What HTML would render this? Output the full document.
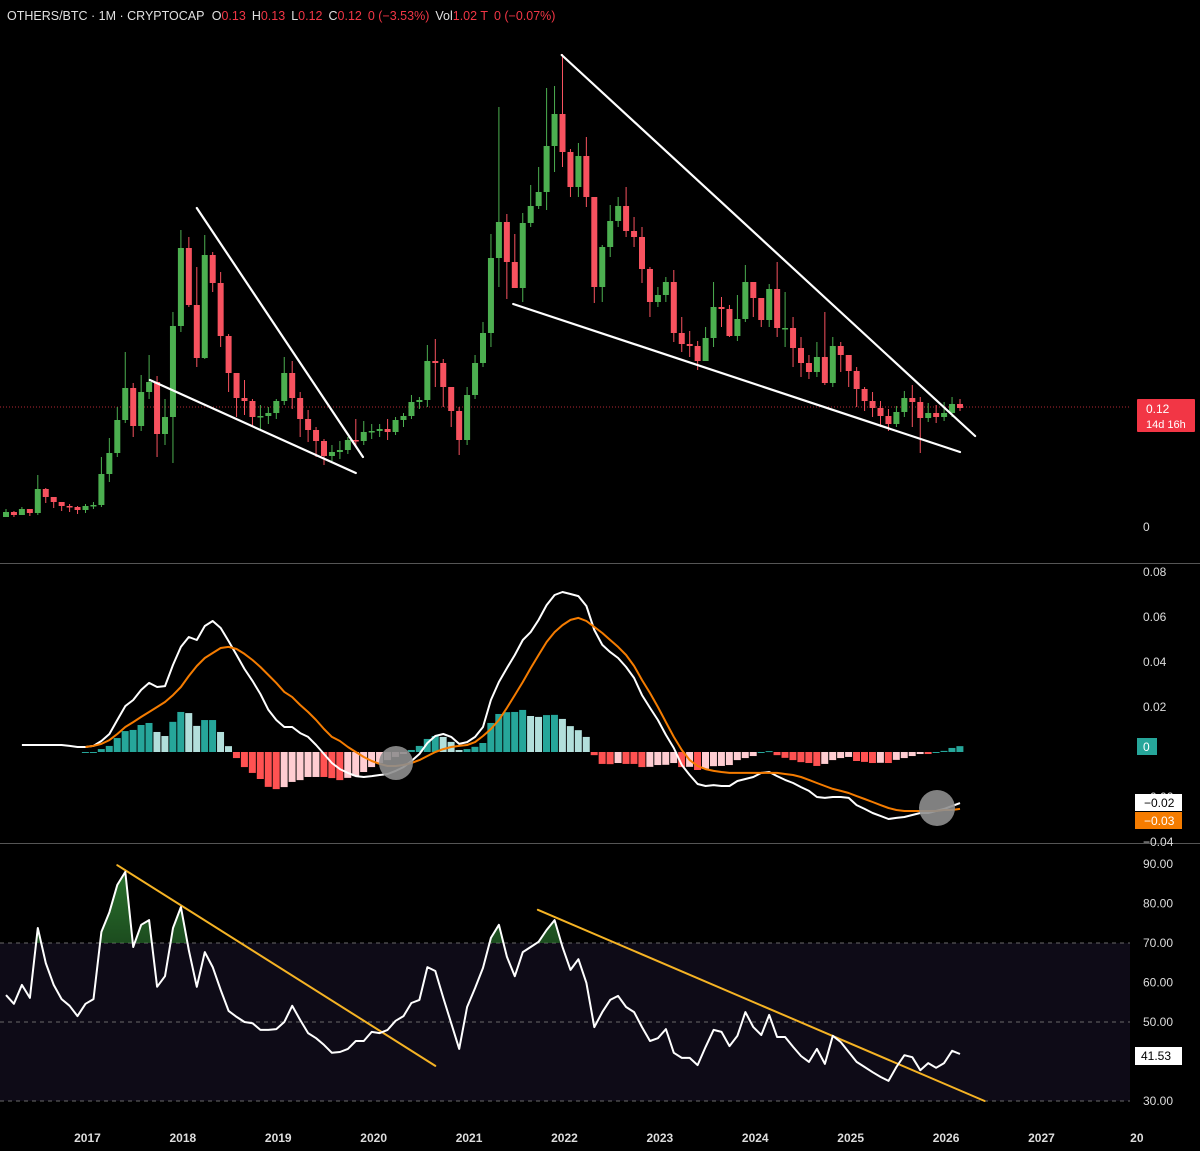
<!DOCTYPE html>
<html><head><meta charset="utf-8"><style>
html,body{margin:0;padding:0;background:#000;width:1200px;height:1151px;overflow:hidden}
svg{display:block;font-family:"Liberation Sans",sans-serif}
</style></head><body>
<svg id="chart" width="1200" height="1151" viewBox="0 0 1200 1151" xmlns="http://www.w3.org/2000/svg">
<rect x="0" y="0" width="1200" height="1151" fill="#000"/>
<text x="7" y="20" font-size="12.5" fill="#e0e0e0">OTHERS/BTC · 1M · CRYPTOCAP <tspan dx="4">O</tspan><tspan fill="#f23645">0.13</tspan><tspan dx="6">H</tspan><tspan fill="#f23645">0.13</tspan><tspan dx="6">L</tspan><tspan fill="#f23645">0.12</tspan><tspan dx="6">C</tspan><tspan fill="#f23645">0.12</tspan><tspan dx="6" fill="#f23645">0 (−3.53%)</tspan><tspan dx="6">Vol</tspan><tspan fill="#f23645">1.02 T</tspan><tspan dx="6" fill="#f23645">0 (−0.07%)</tspan></text>
<line x1="0" y1="563.5" x2="1200" y2="563.5" stroke="#555"/>
<line x1="0" y1="843.5" x2="1200" y2="843.5" stroke="#555"/>
<rect x="0" y="943" width="1130" height="158" fill="#0e0b17"/>
<g id="layer"></g>
</svg>
<script>
const closes=[.015,.012,.018,.014,.038,.030,.025,.021,.020,.017,
.021,.022,.053,.074,.107,.139,.101,.135,.145,.093,
.110,.201,.279,.222,.169,.272,.244,.191,.154,.129,
.126,.110,.111,.114,.126,.154,.129,.108,.097,.086,
.071,.075,.077,.087,.086,.095,.096,.098,.095,.107,
.111,.125,.127,.166,.164,.140,.116,.087,.132,.164,
.194,.269,.305,.265,.239,.304,.321,.335,.381,.413,
.375,.340,.371,.330,.240,.280,.306,.321,.296,.290,
.258,.225,.232,.245,.194,.183,.181,.166,.189,.220,
.218,.191,.208,.245,.229,.207,.238,.199,.199,.179,
.164,.155,.170,.144,.181,.172,.156,.138,.126,.119,
.111,.103,.115,.129,.125,.109,.114,.110,.114,.123,.119];
const firstOpen=0.010;
const highs=[.018,.016,.020,.017,.052,.039,.029,.024,.023,.021,
.023,.025,.070,.089,.120,.175,.144,.152,.172,.151,
.128,.215,.297,.290,.260,.292,.275,.255,.193,.152,
.147,.128,.122,.120,.128,.170,.166,.135,.117,.100,
.088,.082,.086,.090,.108,.106,.103,.103,.108,.110,
.114,.132,.130,.182,.188,.168,.140,.120,.140,.172,
.205,.293,.420,.313,.293,.314,.342,.360,.439,.441,
.473,.378,.384,.390,.330,.282,.322,.330,.340,.310,
.300,.260,.240,.250,.257,.210,.196,.186,.200,.245,
.230,.222,.232,.262,.244,.228,.243,.265,.235,.210,
.190,.172,.185,.215,.190,.185,.168,.160,.140,.135,
.126,.118,.121,.136,.142,.130,.124,.122,.125,.130,.128];
const lows=[.012,.010,.012,.011,.012,.024,.019,.016,.015,.013,
.014,.018,.020,.045,.070,.104,.090,.096,.128,.070,
.082,.064,.195,.220,.160,.168,.235,.180,.135,.110,
.112,.100,.098,.103,.108,.122,.118,.090,.085,.070,
.062,.066,.068,.073,.080,.082,.088,.090,.087,.092,
.100,.108,.118,.120,.140,.120,.100,.072,.082,.128,
.160,.180,.240,.228,.250,.225,.300,.318,.317,.355,
.360,.330,.330,.320,.224,.225,.270,.300,.290,.280,
.244,.210,.220,.225,.185,.175,.170,.157,.170,.180,
.200,.190,.186,.205,.210,.200,.200,.190,.180,.160,
.150,.148,.150,.142,.140,.155,.140,.120,.116,.110,
.100,.096,.100,.110,.100,.074,.105,.104,.106,.110,.116];
// MACD values in thousandths
const macdLine=[null,null,3.1,3.1,3.1,3.1,3.1,3.1,2.7,2.2,
2.2,2.7,4.9,8.0,14.2,20.4,23.1,27.6,30.7,28.9,
29.3,38.7,46.7,51.1,49.8,56.0,58.2,55.1,49.3,43.1,
36.9,31.6,25.8,18.7,14.2,11.1,11.1,8.4,6.7,3.1,
-0.9,-4.9,-7.6,-9.3,-10.7,-11.1,-10.7,-10.2,-9.8,-8.4,
-6.7,-4.0,-0.9,4.0,7.1,8.0,6.7,3.6,4.4,6.7,
11.1,23.1,31.1,37.3,43.1,49.8,53.3,58.7,65.3,69.8,
71.1,70.2,69.3,64.9,54.2,47.6,44.4,41.8,37.8,32.9,
25.3,19.6,14.2,7.6,1.8,-5.8,-10.2,-14.2,-15.1,-14.7,
-15.1,-15.1,-12.9,-12.0,-11.1,-9.3,-8.9,-10.7,-12.4,-13.8,
-15.6,-17.3,-20.0,-20.4,-20.0,-20.0,-20.4,-23.6,-25.3,-27.1,
-28.4,-29.8,-29.3,-28.9,-28.0,-27.1,-27.1,-26.2,-25.3,-24.0,-22.7];
const signalLine=[null,null,null,null,null,null,null,null,null,null,
2.2,2.7,3.6,5.3,8.0,11.1,13.3,15.6,17.8,20.0,
22.2,25.3,28.9,33.8,38.2,41.8,44.0,46.2,46.7,45.8,
43.6,40.9,37.8,34.2,30.7,26.7,24.4,20.9,17.8,14.2,
10.2,6.7,4.9,2.2,0,-2.2,-4.0,-5.3,-6.2,-6.2,
-5.8,-4.9,-3.6,-1.8,0,1.3,2.2,2.7,3.1,4.4,
7.1,10.2,14.2,19.6,25.3,31.1,37.3,43.1,48.9,53.3,
56.4,58.7,59.6,58.2,55.6,52.9,49.8,46.7,43.1,38.2,
32.0,26.2,20.0,13.3,6.7,0.9,-3.6,-6.2,-7.6,-8.4,
-8.9,-9.3,-9.3,-9.3,-9.3,-9.3,-9.3,-9.3,-9.8,-10.2,
-11.1,-12.4,-13.8,-15.1,-16.4,-17.3,-18.2,-19.6,-20.9,-22.2,
-23.6,-24.9,-25.8,-26.2,-26.2,-26.2,-26.2,-26.2,-25.8,-25.8,-25.3];
const rsi=[56.8,54.6,59.4,56.1,73.8,64.9,59.4,55.8,54.1,51.5,
54.6,55.8,72.8,77.8,84.7,88.0,69.0,74.6,75.8,58.9,
61.6,73.8,79.1,68.2,58.9,67.7,63.9,58.1,52.8,51.3,
50.0,49.7,48.0,48.0,48.2,50.0,54.1,50.5,47.2,45.9,
44.2,42.2,42.4,43.2,45.2,45.2,47.5,47.2,48.0,50.3,
51.5,54.8,55.6,63.9,62.9,56.1,49.7,43.2,53.8,58.6,
63.7,71.3,74.6,66.5,61.6,67.7,69.0,70.3,73.3,75.8,
69.0,63.2,65.9,59.9,48.7,52.5,55.6,56.6,53.8,52.5,
48.7,45.2,45.9,48.2,42.2,40.9,40.9,39.1,43.7,48.0,
47.5,43.9,46.5,52.5,48.7,46.7,51.8,46.2,46.2,43.7,
41.4,39.9,43.2,39.4,46.5,44.9,42.4,39.9,38.6,37.3,
36.1,35.1,38.6,41.6,41.1,37.8,39.6,38.4,39.6,42.7,41.9];
const years=["2017","2018","2019","2020","2021","2022","2023","2024","2025","2026","2027","20"];
const macdTicks=["0.08","0.06","0.04","0.02","−0.02","−0.04"];
const macdTickVals=[80,60,40,20,-20,-40];
const rsiTicks=["90.00","80.00","70.00","60.00","50.00","30.00"];
const rsiTickVals=[90,80,70,60,50,30];
// trendline annotations: [index, value] endpoints
const priceTrendA=[[24.0,.319],[44.9,.070]];
const priceTrendB=[[18.1,.147],[44.0,.054]];
const priceTrendC=[[69.9,.472],[121.9,.091]];
const priceTrendD=[[63.8,.223],[120.0,.075]];
const rsiTrendA=[[14.0,89.7],[54.0,38.9]];
const rsiTrendB=[[66.9,78.4],[123.1,30]];
const lastPrice=0.12;

const NS="http://www.w3.org/2000/svg";
const layer=document.getElementById('layer');
const xAt=i=>6+i*7.95;
const yPrice=v=>527-v*1000;
const yMacd=v=>752-v*2.25;
const yRsi=v=>1101-(v-30)*3.95;
function mk(tag,attrs,parent){const e=document.createElementNS(NS,tag);for(const k in attrs)e.setAttribute(k,attrs[k]);(parent||layer).appendChild(e);return e;}

// price axis elements
let e=mk('line',{x1:0,y1:yPrice(lastPrice),x2:1130,y2:yPrice(lastPrice),stroke:'#b22833','stroke-width':1,'stroke-dasharray':'1 2'});


e=mk('text',{x:1143,y:yPrice(0)+4,'font-size':12,fill:'#ddd'});e.textContent='0';



// candles
const cg=mk('g',{});


for(let i=0;i<closes.length;i++){
  const o=i===0?firstOpen:closes[i-1], c=closes[i];
  const up=c>=o, col=up?'#4caf50':'#f7525f';
  const x=xAt(i);
  const top=Math.max(o,c,highs[i]), bot=Math.min(o,c,lows[i]);
  const w=mk('line',{x1:x,y1:yPrice(top),x2:x,y2:yPrice(bot),stroke:col,'stroke-width':1},cg);
  
  
  const bt=yPrice(Math.max(o,c)), bb=yPrice(Math.min(o,c));
  const b=mk('rect',{x:x-3,y:bt,width:6,height:Math.max(1.5,bb-bt),fill:col},cg);
  
  
}
function tline(pts,fy,col,w,name){
  const l=mk('line',{x1:xAt(pts[0][0]),y1:fy(pts[0][1]),x2:xAt(pts[1][0]),y2:fy(pts[1][1]),stroke:col,'stroke-width':w,'stroke-linecap':'round'});
  
  
}
tline(priceTrendA,yPrice,'#fff',2.2,'trendline-2018-upper');
tline(priceTrendB,yPrice,'#fff',2.2,'trendline-2018-lower');
tline(priceTrendC,yPrice,'#fff',2.2,'trendline-2022-upper');
tline(priceTrendD,yPrice,'#fff',2.2,'trendline-2022-lower');

// price label
e=mk('rect',{x:1137,y:399,width:58,height:33,fill:'#f23645',rx:1});


e=mk('text',{x:1146,y:413,'font-size':12,fill:'#fff'});e.textContent='0.12';


e=mk('text',{x:1146,y:428,'font-size':11,fill:'#fff'});e.textContent='14d 16h';



// MACD histogram
const hg=mk('g',{});


let prevH=null;
for(let i=0;i<macdLine.length;i++){
  if(macdLine[i]===null||signalLine[i]===null)continue;
  const h=macdLine[i]-signalLine[i];
  let col;
  if(h>=0) col=(prevH===null||h>=prevH)?'#26a69a':'#b2dfdb';
  else col=(prevH===null||h<=prevH)?'#ff5252':'#ffcdd2';
  prevH=h;
  const y0=yMacd(0), y1=yMacd(h);
  const r=mk('rect',{x:xAt(i)-3.6,y:Math.min(y0,y1),width:7,height:Math.max(1,Math.abs(y1-y0)),fill:col},hg);
  
  
}
function poly(arr,fy,col,w,name){
  let pts=[];
  arr.forEach((v,i)=>{if(v!==null)pts.push(xAt(i).toFixed(1)+','+fy(v).toFixed(1));});
  const p=mk('polyline',{points:pts.join(' '),fill:'none',stroke:col,'stroke-width':w,'stroke-linejoin':'round'});
  
  
}
poly(macdLine,yMacd,'#ffffff',2,'macd-line');
poly(signalLine,yMacd,'#f57c00',2,'signal-line');
e=mk('circle',{cx:396,cy:763,r:17,fill:'#8e8e8e','fill-opacity':0.9});


e=mk('circle',{cx:937,cy:808,r:18,fill:'#8e8e8e','fill-opacity':0.9});


macdTicks.forEach((t,k)=>{
  const tx=mk('text',{x:1143,y:yMacd(macdTickVals[k])+4,'font-size':12,fill:'#ddd'});tx.textContent=t;
  
  
});
e=mk('rect',{x:1137,y:738,width:20,height:17,fill:'#26a69a'});


e=mk('text',{x:1143,y:751,'font-size':12,fill:'#fff'});e.textContent='0';


e=mk('rect',{x:1135,y:794,width:47,height:17,fill:'#fff'});


e=mk('text',{x:1144,y:807,'font-size':12,fill:'#000'});e.textContent='−0.02';


e=mk('rect',{x:1135,y:812,width:47,height:17,fill:'#f57c00'});


e=mk('text',{x:1144,y:825,'font-size':12,fill:'#fff'});e.textContent='−0.03';



// RSI
[70,50,30].forEach(v=>{
  const l=mk('line',{x1:0,y1:yRsi(v),x2:1130,y2:yRsi(v),stroke:'#6a6a6a','stroke-dasharray':'4 4','stroke-width':1});
  
  
});
const defs=mk('defs',{});
const grad=mk('linearGradient',{id:'g1',x1:0,y1:0,x2:0,y2:1},defs);
mk('stop',{offset:'0','stop-color':'#2e7d32','stop-opacity':0.9},grad);
mk('stop',{offset:'1','stop-color':'#2e7d32','stop-opacity':0.05},grad);
const cp=mk('clipPath',{id:'ob'},defs);
mk('rect',{x:0,y:0,width:1200,height:yRsi(70)},cp);
let ap=[xAt(0)+','+yRsi(70)];
rsi.forEach((v,i)=>ap.push(xAt(i).toFixed(1)+','+yRsi(v).toFixed(1)));
ap.push(xAt(rsi.length-1)+','+yRsi(70));
e=mk('polygon',{points:ap.join(' '),fill:'url(#g1)','clip-path':'url(#ob)'});


tline(rsiTrendA,yRsi,'#f5b324',2,'rsi-trendline-1');
tline(rsiTrendB,yRsi,'#f5b324',2,'rsi-trendline-2');
poly(rsi,yRsi,'#ffffff',2,'rsi-line');
rsiTicks.forEach((t,k)=>{
  const tx=mk('text',{x:1143,y:yRsi(rsiTickVals[k])+4,'font-size':12,fill:'#ddd'});tx.textContent=t;
  
  
});
e=mk('rect',{x:1135,y:1047,width:47,height:18,fill:'#fff'});


e=mk('text',{x:1141,y:1060,'font-size':12,fill:'#000'});e.textContent='41.53';



// time axis
years.forEach((t,k)=>{
  const tx=mk('text',{x:xAt(11+12*k)-6,y:1142,'font-size':12,'font-weight':'bold',fill:'#ddd','text-anchor':'middle'});tx.textContent=t;
  
  
});
</script>
</body></html>
